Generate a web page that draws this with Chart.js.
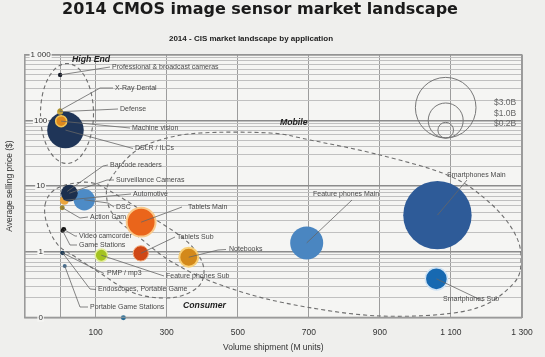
<!DOCTYPE html>
<html>
<head>
<meta charset="utf-8">
<script src="https://cdn.jsdelivr.net/npm/chart.js@4.4.1/dist/chart.umd.min.js"></script>
<style>
html, body { margin: 0; padding: 0; background: #efefed; }
#wrap { width: 545px; height: 357px; position: relative; }
</style>
</head>
<body>
<div id="wrap"><canvas id="c" width="545" height="357"></canvas></div>
<script>
// ---------------- DATA ----------------
const categories = [
  'Smartphones Main', 'DSLR / ILCs', 'Feature phones Main', 'Tablets Main', 'DSC',
  'Smartphones Sub', 'Notebooks', 'Automotive', 'Barcode readers', 'Surveillance Cameras',
  'Tablets Sub', 'Feature phones Sub', 'Machine vision', 'Defense', 'X-Ray Dental',
  'Professional & broadcast cameras', 'Action Cam', 'Game Stations', 'Video camcorder', 'PMP / mp3',
  'Endoscopes, Portable Game', 'Portable Game Stations', '(unlabeled)'
];
// volume shipment (M units)
const volumes = [1062, 15, 694, 228, 68, 1059, 362, 12, 20, 26, 227, 116, 3, 0, 0, 0, 6, 7, 10, 6, 8, 13, 178];
// average selling price ($)
const prices = [3.62, 71, 1.37, 2.83, 6.2, 0.39, 0.83, 6.1, 8.3, 7.8, 0.95, 0.89, 97, 135, 142, 490, 4.7, 2.1, 2.2, 0.97, 0.95, 0.61, 0.1];
// revenue ($B) -> bubble area
const revenues = [3.82, 1.09, 0.89, 0.68, 0.37, 0.40, 0.29, 0.066, 0.02, 0.23, 0.19, 0.125, 0.10, 0.03, 0.013, 0.016, 0.02, 0.013, 0.02, 0.013, 0.01, 0.013, 0.02];

const xTickValues = [-100, 0, 100, 300, 500, 700, 900, 1100, 1300];
const yMajorTicks = [0.1, 1, 10, 100, 1000];
const yMajorLabels = ['0', '1', '10', '100', '1 000'];
const legendRevenues = [3.0, 1.0, 0.2];
const legendLabels = ['$3.0B', '$1.0B', '$0.2B'];
const groupNames = ['High End', 'Mobile', 'Consumer'];

// ---------------- STYLES ----------------
const fillColors = ['#2e5b98', '#1f3558', '#4a86c1', '#ea651b', '#4d8bc6',
  '#1769b1', '#d3891a', '#eaa53c', '#1a2c48', '#1c2f4e',
  '#cf4715', '#a4c320', '#dd881e', '#c9a43a', '#a89030',
  '#151a26', '#a0882a', '#1c1c1c', '#111111', '#1d3c58',
  '#1d3c58', '#4a6f8e', '#2a6e97'];
const ringColors = ['rgba(0,0,0,0)', 'rgba(0,0,0,0)', 'rgba(0,0,0,0)', '#f9c98a', 'rgba(0,0,0,0)',
  '#cfe3f5', '#f7cf77', 'rgba(0,0,0,0)', 'rgba(0,0,0,0)', 'rgba(0,0,0,0)',
  '#f2a878', '#e3ee9a', '#f3c453', 'rgba(0,0,0,0)', 'rgba(0,0,0,0)',
  'rgba(0,0,0,0)', 'rgba(0,0,0,0)', 'rgba(0,0,0,0)', 'rgba(0,0,0,0)', 'rgba(0,0,0,0)',
  'rgba(0,0,0,0)', 'rgba(0,0,0,0)', 'rgba(0,0,0,0)'];
const ringWidths = [0, 0, 0, 2, 0, 1.5, 2, 0, 0, 0, 1, 1.5, 1.5, 0, 0, 0, 0, 0, 0, 0, 0, 0, 0];

const K = 17.5; // px radius for $1B
const rOf = v => Math.max(1.8, K * Math.sqrt(v));

// annotation layout (pixels): label left/middle, and leader line elbow points
const labelLayout = [
  { t: 'Professional & broadcast cameras', x: 112, y: 67, to: 'Professional & broadcast cameras', p: [[110, 67]] },
  { t: 'X-Ray Dental', x: 115, y: 88, to: 'X-Ray Dental', p: [[100, 88], [113, 88]] },
  { t: 'Defense', x: 120, y: 109, to: 'Defense', p: [[118, 109]] },
  { t: 'Machine vision', x: 132, y: 128, to: 'Machine vision', p: [[130, 128]] },
  { t: 'DSLR / ILCs', x: 135, y: 148.5, to: 'DSLR / ILCs', p: [[133, 148.5]] },
  { t: 'Barcode readers', x: 110, y: 165, to: 'Barcode readers', p: [[103, 166], [108, 165]] },
  { t: 'Surveillance Cameras', x: 116, y: 180, to: 'Surveillance Cameras', p: [[107, 180], [114, 180]] },
  { t: 'Automotive', x: 133, y: 194, to: 'Automotive', p: [[131, 194]] },
  { t: 'DSC', x: 116, y: 207, to: 'DSC', p: [[108, 203], [114, 207]] },
  { t: 'Action Cam', x: 90, y: 217, to: 'Action Cam', p: [[80, 218], [88, 217]] },
  { t: 'Tablets Main', x: 188, y: 207, to: 'Tablets Main', p: [[182, 207]] },
  { t: 'Video camcorder', x: 79, y: 236, to: 'Video camcorder', p: [[75, 236], [77, 236]] },
  { t: 'Game Stations', x: 79, y: 245, to: 'Game Stations', p: [[70, 245], [77, 245]] },
  { t: 'Tablets Sub', x: 177, y: 237, to: 'Tablets Sub', p: [[175, 237]] },
  { t: 'Notebooks', x: 229, y: 249.5, to: 'Notebooks', p: [[218, 250], [226, 249.5]] },
  { t: 'PMP / mp3', x: 107, y: 273.5, to: 'PMP / mp3', p: [[104, 273.5]] },
  { t: 'Feature phones Sub', x: 166, y: 276, to: 'Feature phones Sub', p: [[164, 276]] },
  { t: 'Endoscopes, Portable Game', x: 98, y: 289.5, to: 'Endoscopes, Portable Game', p: [[90, 289], [96, 289.5]] },
  { t: 'Portable Game Stations', x: 90, y: 307, to: 'Portable Game Stations', p: [[80, 307], [88, 307]] },
  { t: 'Feature phones Main', x: 313, y: 194.5, to: 'Feature phones Main', p: [[352, 200]] },
  { t: 'Smartphones Main', x: 447, y: 175, to: 'Smartphones Main', p: [[467, 180]] },
  { t: 'Smartphones Sub', x: 443, y: 299, to: 'Smartphones Sub', p: [[483, 301]] }
];
const groupLayout = [ { x: 72, y: 59.5 }, { x: 280, y: 123 }, { x: 183, y: 306 } ];

const highEndEllipse = { cx: 67, cy: 113.5, rx: 26.5, ry: 50 };
const consumerOutline = [[45, 205], [53, 191], [70, 184], [93, 183], [117, 195], [150, 216], [183, 238],
  [199, 256], [204, 272], [198, 287], [177, 297], [150, 297], [127, 290], [100, 273], [77, 258], [58, 245], [47, 224]];
const mobileOutline = [[110, 180], [133, 153], [160, 140], [200, 133], [270, 133], [310, 140], [380, 155],
  [450, 176], [490, 203], [514, 232], [521, 258], [513, 284], [470, 310], [380, 316], [285, 303], [218, 284],
  [172, 262], [140, 238], [116, 218], [107, 200]];

// ---------------- HELPERS ----------------
const fmt = v => String(v).replace(/\B(?=(\d{3})+(?!\d))/g, ' ');
const isMajor = v => Math.abs(Math.log10(v) - Math.round(Math.log10(v))) < 1e-9;
const yGridValues = [];
for (let e = -1; e <= 2; e++) for (let m = 1; m <= 9; m++) yGridValues.push(m * Math.pow(10, e));
yGridValues.push(1000);

function closedSpline(ctx, pts) {
  const n = pts.length;
  ctx.beginPath();
  ctx.moveTo(pts[0][0], pts[0][1]);
  for (let i = 0; i < n; i++) {
    const p0 = pts[(i - 1 + n) % n], p1 = pts[i], p2 = pts[(i + 1) % n], p3 = pts[(i + 2) % n];
    ctx.bezierCurveTo(p1[0] + (p2[0] - p0[0]) / 6, p1[1] + (p2[1] - p0[1]) / 6,
                      p2[0] - (p3[0] - p1[0]) / 6, p2[1] - (p3[1] - p1[1]) / 6, p2[0], p2[1]);
  }
  ctx.closePath();
  ctx.stroke();
}

const deco = {
  id: 'deco',
  beforeDraw(chart) {
    const { ctx, chartArea: a } = chart;
    ctx.save();
    ctx.fillStyle = '#efefed';
    ctx.fillRect(0, 0, chart.width, chart.height);
    ctx.fillStyle = '#f5f5f3';
    ctx.fillRect(a.left, a.top, a.right - a.left, a.bottom - a.top);
    ctx.restore();
  },
  beforeDatasetsDraw(chart) {
    const { ctx } = chart;
    ctx.save();
    ctx.strokeStyle = '#6e6e6e';
    ctx.lineWidth = 1.1;
    ctx.setLineDash([4, 3]);
    ctx.beginPath();
    ctx.ellipse(highEndEllipse.cx, highEndEllipse.cy, highEndEllipse.rx, highEndEllipse.ry, 0, 0, Math.PI * 2);
    ctx.stroke();
    closedSpline(ctx, consumerOutline);
    closedSpline(ctx, mobileOutline);
    ctx.restore();
  },
  afterDatasetsDraw(chart) {
    const { ctx, chartArea: a, scales } = chart;
    const xs = scales.x, ys = scales.y;
    ctx.save();
    // plot frame
    ctx.strokeStyle = '#9a9a9a';
    ctx.lineWidth = 1;
    ctx.strokeRect(a.left + 0.5, a.top + 0.5, a.right - a.left - 1, a.bottom - a.top - 1);

    // y tick labels with backdrop
    ctx.font = '8px "Liberation Sans", Arial, sans-serif';
    ctx.textAlign = 'center';
    ctx.textBaseline = 'middle';
    yMajorTicks.forEach((v, i) => {
      const y = ys.getPixelForValue(v);
      const w = ctx.measureText(yMajorLabels[i]).width;
      ctx.fillStyle = '#f5f5f3';
      ctx.fillRect(a.left + 16 - w / 2 - 1, y - 4, w + 2, 8);
      ctx.fillStyle = '#333';
      ctx.fillText(yMajorLabels[i], a.left + 16, y);
    });

    // leader lines
    ctx.strokeStyle = '#666';
    ctx.lineWidth = 0.8;
    labelLayout.forEach(L => {
      const i = categories.indexOf(L.to);
      const px = xs.getPixelForValue(volumes[i]), py = ys.getPixelForValue(prices[i]);
      ctx.beginPath();
      ctx.moveTo(px, py);
      L.p.forEach(q => ctx.lineTo(q[0], q[1]));
      ctx.stroke();
    });
    // labels
    ctx.font = '7px "Liberation Sans", Arial, sans-serif';
    ctx.fillStyle = '#4a4a4a';
    ctx.textAlign = 'left';
    ctx.textBaseline = 'middle';
    labelLayout.forEach(L => ctx.fillText(L.t, L.x, L.y));

    // group names
    ctx.font = 'italic bold 8.7px "Liberation Sans", Arial, sans-serif';
    ctx.fillStyle = '#1e1e1e';
    groupNames.forEach((g, i) => ctx.fillText(g, groupLayout[i].x, groupLayout[i].y));

    // size legend
    const lx = 445.7, lb = 138;
    ctx.strokeStyle = '#777';
    ctx.lineWidth = 1;
    legendRevenues.forEach(v => {
      const r = K * Math.sqrt(v);
      ctx.beginPath();
      ctx.arc(lx, lb - r, r, 0, Math.PI * 2);
      ctx.stroke();
    });
    ctx.font = '8.5px "Liberation Sans", Arial, sans-serif';
    ctx.fillStyle = '#666';
    const ly = [102.7, 114, 123.7];
    legendLabels.forEach((t, i) => ctx.fillText(t, 494, ly[i]));

    // titles
    ctx.textAlign = 'center';
    ctx.textBaseline = 'alphabetic';
    ctx.fillStyle = '#1a1a1a';
    ctx.font = 'bold 16px "DejaVu Sans", sans-serif';
    ctx.fillText('2014 CMOS image sensor market landscape', 260, 13.5);
    ctx.textBaseline = 'middle';
    ctx.font = 'bold 8px "Liberation Sans", Arial, sans-serif';
    ctx.fillStyle = '#222';
    ctx.fillText('2014 - CIS market landscape by application', 251, 39);
    ctx.restore();
  }
};

new Chart(document.getElementById('c'), {
  type: 'bubble',
  data: {
    datasets: [{
      label: 'CIS 2014',
      data: categories.map((n, i) => ({ x: volumes[i], y: prices[i], r: rOf(revenues[i]) })),
      backgroundColor: fillColors,
      borderColor: ringColors,
      borderWidth: ringWidths,
      hoverRadius: 0,
      clip: false
    }]
  },
  options: {
    responsive: false,
    animation: false,
    devicePixelRatio: 1,
    events: [],
    layout: { autoPadding: false, padding: { left: 2, right: 23, top: 54.5, bottom: 4.4 } },
    plugins: { legend: { display: false }, tooltip: { enabled: false }, title: { display: false } },
    scales: {
      x: {
        type: 'linear', min: -100, max: 1300,
        afterBuildTicks: s => { s.ticks = xTickValues.map(v => ({ value: v })); },
        ticks: {
          autoSkip: false, maxRotation: 0, padding: 10, color: '#333',
          font: { family: 'Liberation Sans', size: 8.5 },
          callback: v => (v >= 100 ? fmt(v) : '')
        },
        grid: { color: '#9c9c9c', lineWidth: 1, drawTicks: false },
        border: { display: true, color: '#9a9a9a' },
        title: {
          display: true, text: 'Volume shipment (M units)', color: '#333',
          font: { family: 'Liberation Sans', size: 8.5 }, padding: { top: -5.5, bottom: 0 }
        }
      },
      y: {
        type: 'logarithmic', min: 0.1, max: 1000,
        afterBuildTicks: s => { s.ticks = yGridValues.map(v => ({ value: v })); },
        ticks: { display: false },
        grid: {
          drawTicks: false,
          color: c => (c.tick && isMajor(c.tick.value) ? '#8c8c8c' : '#c0c0c0'),
          lineWidth: c => (c.tick && isMajor(c.tick.value) ? 1.5 : 1)
        },
        border: { display: true, color: '#9a9a9a' },
        title: {
          display: true, text: 'Average selling price ($)', color: '#333',
          font: { family: 'Liberation Sans', size: 8.5 }, padding: { top: 2.6, bottom: 9.8 }
        }
      }
    }
  },
  plugins: [deco]
});
</script>
</body>
</html>
